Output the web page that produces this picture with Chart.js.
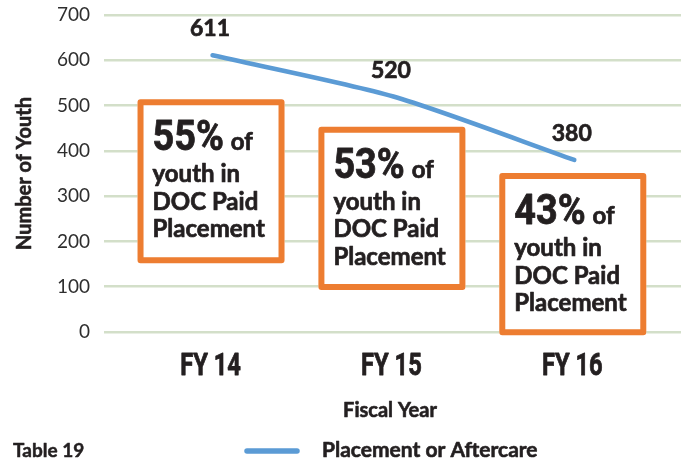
<!DOCTYPE html>
<html>
<head>
<meta charset="utf-8">
<script src="https://cdn.jsdelivr.net/npm/chart.js@4.4.1/dist/chart.umd.min.js"></script>
<style>
  html, body { margin: 0; padding: 0; background: #fff; }
  #wrap { width: 681px; height: 460px; }
</style>
</head>
<body>
<div id="wrap"><canvas id="youthChart"></canvas></div>
<script>
const fiscalYears = ['FY 14', 'FY 15', 'FY 16'];
const youthCounts = [611, 520, 380];
const paidShare = ['55%', '53%', '43%'];
const calloutLines = ['youth in', 'DOC Paid', 'Placement'];
const seriesLabel = 'Placement or Aftercare';
const tableLabel = 'Table 19';
const xTitle = 'Fiscal Year';
const yTitle = 'Number of Youth';

// callout boxes span these y values (top, bottom) under each year
const boxTop = [514, 453, 351];
const boxBottom = [152, 93, -7];

const ORANGE = '#ED7D31';
const BLUE = '#5B9BD5';
const INK = '#231F20';

// fill + thin stroke, Lato bold is a bit light next to Calibri bold
function heavyText(ctx, text, x, y, w) {
  ctx.lineWidth = w || 0.7;
  ctx.strokeStyle = ctx.fillStyle;
  ctx.lineJoin = 'round';
  ctx.strokeText(text, x, y);
  ctx.fillText(text, x, y);
}

// horizontally squeezed text for the condensed headline figures
function scaledText(ctx, text, x, y, sx, align) {
  ctx.save();
  ctx.translate(x, y);
  ctx.scale(sx, 1);
  ctx.textAlign = align;
  heavyText(ctx, text, 0, 0, 0.8);
  ctx.restore();
}

const callouts = {
  id: 'callouts',
  beforeDatasetsDraw(chart) {
    const { ctx, scales: { x, y } } = chart;
    ctx.save();
    fiscalYears.forEach((_, i) => {
      const cx = x.getPixelForValue(i) - 1.5;
      const top = y.getPixelForValue(boxTop[i]);
      const bottom = y.getPixelForValue(boxBottom[i]);
      const left = cx - 73.5, w = 147;
      ctx.fillStyle = '#fff';
      ctx.fillRect(left, top, w, bottom - top);
      ctx.strokeStyle = ORANGE;
      ctx.lineWidth = 6;
      ctx.lineJoin = 'round';
      ctx.strokeRect(left + 3, top + 3, w - 6, bottom - top - 6);

      ctx.fillStyle = INK;
      ctx.textBaseline = 'alphabetic';
      const tx = left + 15;
      ctx.font = 'bold 42px Roboto';
      const pw = ctx.measureText(paidShare[i]).width * 0.9;
      scaledText(ctx, paidShare[i], tx, top + 51, 0.9, 'left');
      ctx.font = 'bold 24px Lato';
      ctx.textAlign = 'left';
      heavyText(ctx, 'of', tx + pw + 7, top + 51);
      calloutLines.forEach((line, k) => {
        heavyText(ctx, line, tx, top + 83 + k * 27.5);
      });
    });
    ctx.restore();
  },
  afterDatasetsDraw(chart) {
    const { ctx, scales: { x, y } } = chart;
    ctx.save();
    ctx.fillStyle = INK;
    ctx.textBaseline = 'alphabetic';

    // value labels
    ctx.font = 'bold 23px Lato';
    ctx.textAlign = 'center';
    youthCounts.forEach((v, i) => {
      heavyText(ctx, String(v), x.getPixelForValue(i) - 2.5, y.getPixelForValue(v) - 19);
    });

    // category labels
    ctx.font = 'bold 32px Roboto';
    fiscalYears.forEach((lab, i) => {
      scaledText(ctx, lab, x.getPixelForValue(i) - 2, 375, 0.74, 'center');
    });

    // axis titles
    ctx.font = 'bold 20px Lato';
    ctx.textAlign = 'center';
    heavyText(ctx, xTitle, 390, 417, 0.6);

    ctx.save();
    ctx.translate(25, (y.top + y.bottom) / 2);
    ctx.rotate(-Math.PI / 2);
    ctx.textBaseline = 'middle';
    heavyText(ctx, yTitle, 0, 0, 0.6);
    ctx.restore();

    // table label
    ctx.font = 'bold 19px Lato';
    ctx.textAlign = 'left';
    heavyText(ctx, tableLabel, 13, 457, 0.5);

    // legend
    ctx.strokeStyle = BLUE;
    ctx.lineWidth = 5.5;
    ctx.lineCap = 'round';
    ctx.beginPath();
    ctx.moveTo(247, 451);
    ctx.lineTo(297, 451);
    ctx.stroke();
    ctx.font = 'bold 21px Lato';
    ctx.fillStyle = INK;
    heavyText(ctx, seriesLabel, 322, 457, 0.6);
    ctx.restore();
  }
};

new Chart(document.getElementById('youthChart'), {
  type: 'line',
  data: {
    datasets: [{
      label: seriesLabel,
      data: youthCounts.map((v, i) => ({ x: i, y: v })),
      borderColor: BLUE,
      borderWidth: 4.5,
      borderCapStyle: 'round',
      pointRadius: 0,
      tension: 0.25
    }]
  },
  options: {
    responsive: true,
    maintainAspectRatio: false,
    animation: false,
    layout: { padding: { top: 15, right: 0, bottom: 128, left: 0 } },
    plugins: {
      legend: { display: false },
      tooltip: { enabled: false }
    },
    scales: {
      x: {
        type: 'linear',
        display: false,
        min: -0.6,
        max: 2.59
      },
      y: {
        min: 0,
        max: 700,
        afterFit: s => {
          s.width = 104;
          s.paddingTop = 0;
          s.paddingBottom = 0;
        },
        border: { display: false },
        grid: { color: '#D3DFC9', lineWidth: 2.5, drawTicks: false },
        ticks: {
          stepSize: 100,
          padding: 14,
          color: '#2E2E2E',
          font: { family: 'Lato', size: 19 }
        }
      }
    }
  },
  plugins: [callouts]
});
</script>
</body>
</html>
